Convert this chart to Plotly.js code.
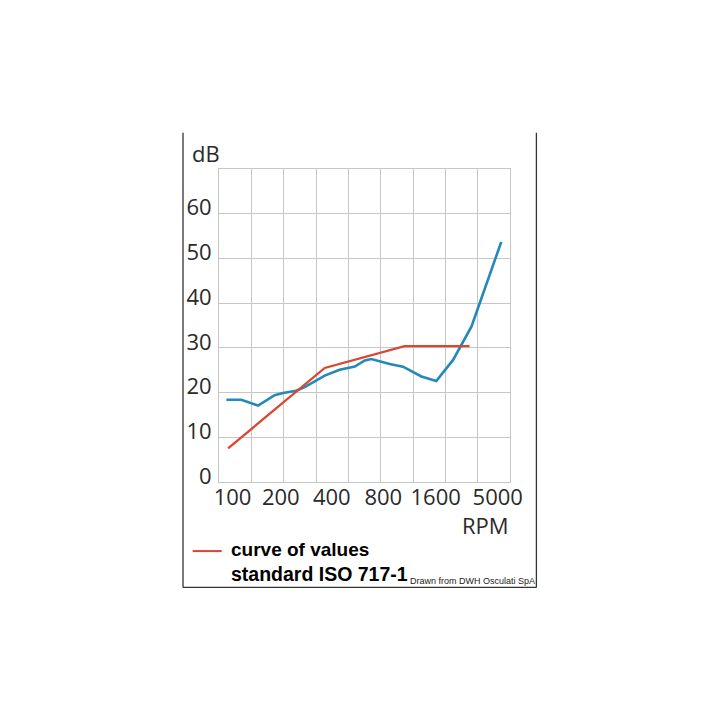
<!DOCTYPE html>
<html>
<head>
<meta charset="utf-8">
<script src="https://cdn.plot.ly/plotly-3.0.1.min.js"></script>
<style>
  html, body { margin: 0; padding: 0; background: #fff; }
  #chart { width: 720px; height: 720px; }
</style>
</head>
<body>
<div id="chart"></div>
<script>
// x is measured in grid columns (9 columns, the RPM axis is drawn by hand in the original)
var noiseX = [0.23, 0.69, 1.21, 1.72, 1.98, 2.39, 2.65, 3.27, 3.73, 4.20, 4.51, 4.71, 5.28, 5.69, 6.26, 6.72, 7.24, 7.81, 8.73];
var noiseY = [18.4, 18.4, 17.1, 19.4, 19.9, 20.4, 21.2, 23.8, 25.1, 25.8, 27.2, 27.5, 26.4, 25.8, 23.6, 22.6, 27.3, 34.8, 53.7];

var isoX = [0.28, 3.27, 5.74, 7.75];
var isoY = [7.5, 25.5, 30.4, 30.4];

var rpmPos = [0.42, 1.91, 3.49, 5.08, 6.70, 8.62];
var rpmLabels = ['100', '200', '400', '800', '1600', '5000'];

var dbTicks = [0, 10, 20, 30, 40, 50, 60];

// plot area in page pixels
var L = 219.3, R = 510.3, T = 169.3, B = 482;
function px(x) { return (x - L) / (R - L); }
function py(y) { return (B - y) / (B - T); }

var tickFont = {family: 'Open Sans, Noto Sans, sans-serif', size: 22, color: '#2a2a2a'};
var gridCol = '#c6c6c6';

var traces = [
  {x: noiseX, y: noiseY, type: 'scatter', mode: 'lines',
   line: {color: '#2389b8', width: 2.6}, hoverinfo: 'skip', showlegend: false},
  {x: isoX, y: isoY, type: 'scatter', mode: 'lines',
   line: {color: '#dc4530', width: 2.3}, hoverinfo: 'skip', showlegend: false},
  // invisible point to hang the label axis on
  {x: [0], y: [0], xaxis: 'x2', type: 'scatter', mode: 'markers',
   marker: {opacity: 0}, hoverinfo: 'skip', showlegend: false}
];

var frame = {color: '#333', width: 1.3};

var layout = {
  width: 720, height: 720,
  margin: {l: L, r: 720 - R, t: T, b: 720 - B, pad: 0},
  paper_bgcolor: '#fff', plot_bgcolor: '#fff',
  xaxis: {
    range: [0, 9], dtick: 1, tick0: 0,
    showgrid: true, gridcolor: gridCol, gridwidth: 1,
    zeroline: false, showline: true, mirror: true, linecolor: gridCol, linewidth: 1,
    showticklabels: false, ticks: '', fixedrange: true
  },
  xaxis2: {
    overlaying: 'x', side: 'bottom', anchor: 'y',
    range: [0, 9], tickmode: 'array', tickvals: rpmPos, ticktext: rpmLabels,
    showgrid: false, zeroline: false, showline: false, ticks: '',
    tickfont: tickFont, ticklabelstandoff: 0
  },
  yaxis: {
    range: [0, 70], tickmode: 'array', tickvals: dbTicks,
    showgrid: true, gridcolor: gridCol, gridwidth: 1,
    zeroline: false, showline: true, mirror: true, linecolor: gridCol, linewidth: 1,
    ticks: '', tickfont: tickFont, ticklabelshift: -6, ticklabelstandoff: 2
  },
  shapes: [
    {type: 'line', xref: 'paper', yref: 'paper', x0: px(183.3), x1: px(183.3), y0: py(133), y1: py(587.3), line: frame},
    {type: 'line', xref: 'paper', yref: 'paper', x0: px(536.7), x1: px(536.7), y0: py(133), y1: py(587.3), line: frame},
    {type: 'line', xref: 'paper', yref: 'paper', x0: px(183.3), x1: px(536.7), y0: py(587.3), y1: py(587.3), line: frame},
    // legend swatch
    {type: 'line', xref: 'paper', yref: 'paper', x0: px(193), x1: px(222), y0: py(551), y1: py(551),
     line: {color: '#dc4530', width: 2}}
  ],
  annotations: [
    {text: 'dB', xref: 'paper', yref: 'paper', x: px(190), y: py(153), xanchor: 'left', yanchor: 'middle',
     showarrow: false, font: tickFont},
    {text: 'RPM', xref: 'paper', yref: 'paper', x: px(511), y: py(525), xanchor: 'right', yanchor: 'middle',
     showarrow: false, font: tickFont},
    {text: '<b>curve of values</b>', xref: 'paper', yref: 'paper', x: px(229), y: py(549), xanchor: 'left', yanchor: 'middle',
     showarrow: false, font: {family: 'Liberation Sans, Arial, sans-serif', size: 19, color: '#000'}},
    {text: '<b>standard ISO 717-1</b>', xref: 'paper', yref: 'paper', x: px(229), y: py(574), xanchor: 'left', yanchor: 'middle',
     showarrow: false, font: {family: 'Liberation Sans, Arial, sans-serif', size: 19.5, color: '#000'}},
    {text: 'Drawn from DWH Osculati SpA', xref: 'paper', yref: 'paper', x: px(537), y: py(581), xanchor: 'right', yanchor: 'middle',
     showarrow: false, font: {family: 'Liberation Sans Narrow, Liberation Sans, Arial, sans-serif', size: 9, color: '#222'}}
  ]
};

Plotly.newPlot('chart', traces, layout, {staticPlot: true, displayModeBar: false});
</script>
</body>
</html>
